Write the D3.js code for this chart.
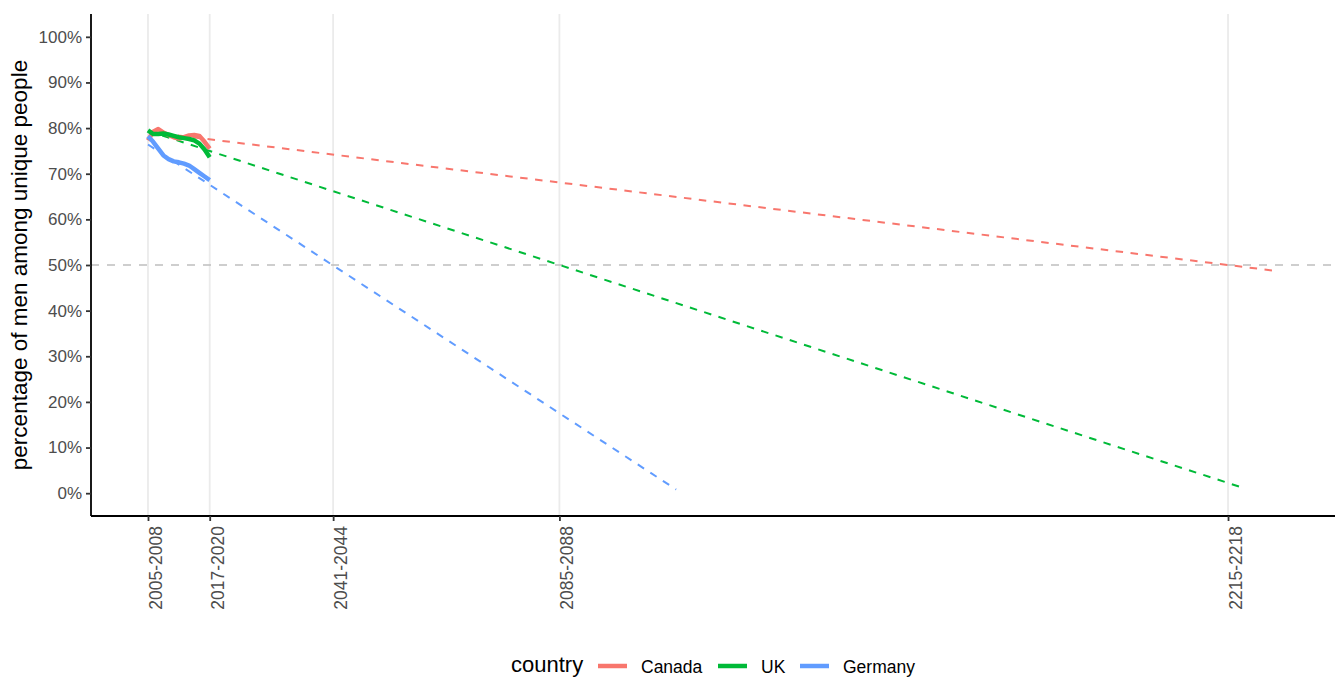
<!DOCTYPE html>
<html>
<head>
<meta charset="utf-8">
<script src="https://cdn.jsdelivr.net/npm/d3@7"></script>
<style>
  html, body { margin: 0; padding: 0; background: #fff; }
  svg { display: block; font-family: "Liberation Sans", Arial, Helvetica, sans-serif; }
</style>
</head>
<body>
<svg id="chart" width="1340" height="677"></svg>
<script>
// ---------- data ----------
const countries = ["Canada", "UK", "Germany"];
const colors = ["#F8766D", "#00BA38", "#619CFF"];
const years = [2005, 2006, 2007, 2008, 2009, 2010, 2011, 2012, 2013, 2014, 2015, 2016, 2017];
const canadaValues  = [0.773, 0.792, 0.798, 0.790, 0.785, 0.780, 0.777, 0.780, 0.784, 0.785, 0.783, 0.770, 0.755];
const ukValues      = [0.795, 0.787, 0.787, 0.788, 0.786, 0.783, 0.780, 0.778, 0.776, 0.773, 0.766, 0.753, 0.736];
const germanyValues = [0.782, 0.770, 0.755, 0.740, 0.732, 0.727, 0.725, 0.722, 0.718, 0.710, 0.702, 0.694, 0.686];
// linear trend lines: start/end year and value per country
const trendStartYears  = [2005, 2005, 2005];
const trendStartValues = [0.792, 0.794, 0.764];
const trendEndYears    = [2224.3, 2218.1, 2107.7];
const trendEndValues   = [0.487, 0.011, 0.008];
const xTickYears  = [2005, 2017, 2041, 2085, 2215];
const xTickLabels = ["2005-2008", "2017-2020", "2041-2044", "2085-2088", "2215-2218"];
const yTicks = [0, 0.1, 0.2, 0.3, 0.4, 0.5, 0.6, 0.7, 0.8, 0.9, 1.0];
const referenceValue = 0.5;
const xDomain = [1993.92, 2235.8];
const yDomain = [-0.05, 1.05];
const yTitle = "percentage of men among unique people";
const legendTitle = "country";

// ---------- layout ----------
const svg = d3.select("#chart");
const panel = { left: 91, right: 1335, top: 14, bottom: 516 };
const x = d3.scaleLinear().domain(xDomain).range([panel.left, panel.right]);
const y = d3.scaleLinear().domain(yDomain).range([panel.bottom, panel.top]);

const seriesValues = [canadaValues, ukValues, germanyValues];

// vertical gridlines
svg.append("g").selectAll("line").data(xTickYears).join("line")
  .attr("x1", d => x(d)).attr("x2", d => x(d))
  .attr("y1", panel.top).attr("y2", panel.bottom)
  .attr("stroke", "#EBEBEB").attr("stroke-width", 1.8);

// 50% reference line
svg.append("line")
  .attr("x1", panel.left).attr("x2", panel.right)
  .attr("y1", y(referenceValue)).attr("y2", y(referenceValue))
  .attr("stroke", "#BEBEBE").attr("stroke-width", 1.6)
  .attr("stroke-dasharray", "8,8");

// trend lines (dashed)
const trendG = svg.append("g");
countries.forEach((c, i) => {
  trendG.append("line")
    .attr("x1", x(trendStartYears[i])).attr("y1", y(trendStartValues[i]))
    .attr("x2", x(trendEndYears[i])).attr("y2", y(trendEndValues[i]))
    .attr("stroke", colors[i]).attr("stroke-width", 2)
    .attr("stroke-dasharray", "7.5,7.5");
});

// observed series (solid)
const line = d3.line().x(d => x(d[0])).y(d => y(d[1]));
const seriesG = svg.append("g");
countries.forEach((c, i) => {
  seriesG.append("path")
    .datum(years.map((yr, j) => [yr, seriesValues[i][j]]))
    .attr("d", line)
    .attr("fill", "none")
    .attr("stroke", colors[i])
    .attr("stroke-width", 4.5)
    .attr("stroke-linejoin", "round");
});

// y axis
const yAxis = svg.append("g")
  .attr("transform", `translate(${panel.left},0)`)
  .call(d3.axisLeft(y).tickValues(yTicks).tickFormat(d3.format(".0%")).tickSizeOuter(0).tickSize(5).tickPadding(4));
yAxis.select(".domain").attr("stroke", "#000").attr("stroke-width", 1.8)
  .attr("d", `M0,${panel.top}V${panel.bottom}`);
yAxis.selectAll(".tick line").attr("stroke", "#333").attr("stroke-width", 1.8);
yAxis.selectAll(".tick text").attr("fill", "#4D4D4D").style("font-size", "17px")
  .style("font-family", "Liberation Sans, Arial, sans-serif");

// x axis
const xAxis = svg.append("g")
  .attr("transform", `translate(0,${panel.bottom})`)
  .call(d3.axisBottom(x).tickValues(xTickYears).tickFormat((d, i) => xTickLabels[i]).tickSizeOuter(0).tickSize(5));
xAxis.select(".domain").attr("stroke", "#000").attr("stroke-width", 1.8)
  .attr("d", `M${panel.left},0H${panel.right}`);
xAxis.selectAll(".tick line").attr("stroke", "#333").attr("stroke-width", 1.8);
xAxis.selectAll(".tick text")
  .attr("fill", "#4D4D4D").style("font-size", "17.5px")
  .style("font-family", "Liberation Sans, Arial, sans-serif")
  .attr("text-anchor", "end")
  .attr("dy", null)
  .attr("y", 0)
  .attr("transform", "translate(13.5,10) rotate(-90)");

// y title
svg.append("text")
  .attr("transform", `translate(27,${(panel.top + panel.bottom) / 2}) rotate(-90)`)
  .attr("text-anchor", "middle")
  .style("font-size", "22.5px")
  .attr("fill", "#000")
  .text(yTitle);

// legend
const legend = svg.append("g");
legend.append("text").attr("x", 511).attr("y", 671.5)
  .style("font-size", "22px").attr("fill", "#000").text(legendTitle);
const keyX = [598, 718, 800];
countries.forEach((c, i) => {
  legend.append("line")
    .attr("x1", keyX[i]).attr("x2", keyX[i] + 29)
    .attr("y1", 666).attr("y2", 666)
    .attr("stroke", colors[i]).attr("stroke-width", 4.5);
  legend.append("text")
    .attr("x", keyX[i] + 43).attr("y", 673)
    .style("font-size", "17.5px").attr("fill", "#000").text(c);
});
</script>
</body>
</html>
